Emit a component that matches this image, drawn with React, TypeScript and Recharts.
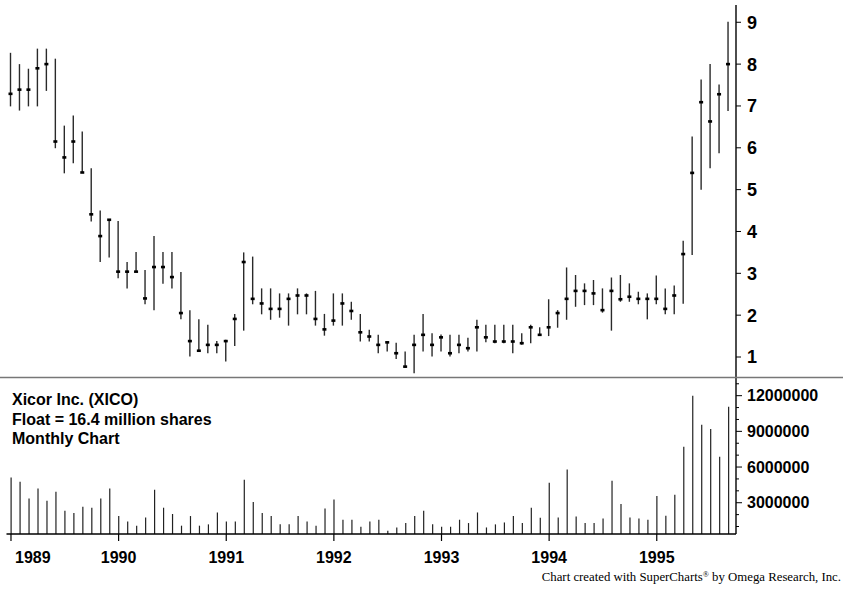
import React from 'react';
import { ComposedChart, BarChart, Bar, XAxis, YAxis } from 'recharts';

// ---- data ----
const yearLabels = ['1989', '1990', '1991', '1992', '1993', '1994', '1995'];
const monthLabels = ['01', '02', '03', '04', '05', '06', '07', '08', '09', '10', '11', '12'];
const monthCount = 81; // Jan 1989 .. Sep 1995

const highs = [
  8.27, 8.0, 7.89, 8.37, 8.37, 8.13, 6.53, 6.77, 6.39, 5.51, 4.5, 4.28,
  4.25, 3.27, 3.51, 3.08, 3.89, 3.51, 3.51, 3.03, 2.12, 1.9, 1.77, 1.38,
  1.41, 2.03, 3.5, 3.4, 2.64, 2.64, 2.52, 2.52, 2.64, 2.52, 2.58, 2.03,
  2.52, 2.52, 2.32, 2.03, 1.65, 1.53, 1.37, 1.34, 1.13, 1.53, 2.03, 1.57,
  1.54, 1.53, 1.53, 1.46, 1.89, 1.77, 1.77, 1.77, 1.77, 1.57, 1.77, 1.71,
  2.38, 2.12, 3.14, 2.96, 2.76, 2.84, 2.64, 2.9, 2.96, 2.76, 2.56, 2.52,
  2.95, 2.64, 2.71, 3.78, 6.27, 7.63, 8.0, 7.51, 9.01,
];
const lows = [
  6.99, 6.89, 6.99, 6.99, 7.36, 5.99, 5.39, 5.63, 5.41, 4.24, 3.27, 3.38,
  2.88, 2.64, 3.04, 2.26, 2.12, 2.75, 2.64, 1.9, 1.01, 1.13, 1.09, 1.09,
  0.89, 1.26, 1.63, 2.26, 2.02, 1.89, 1.94, 1.75, 2.02, 2.02, 1.75, 1.51,
  1.75, 1.75, 1.89, 1.37, 1.37, 1.09, 1.13, 0.95, 0.74, 0.61, 1.13, 1.01,
  1.13, 1.01, 1.09, 1.13, 1.13, 1.35, 1.33, 1.33, 1.09, 1.29, 1.33, 1.53,
  1.5, 1.7, 1.89, 2.2, 2.24, 2.24, 2.06, 1.63, 2.32, 2.32, 2.26, 1.9,
  2.26, 2.02, 2.02, 2.27, 3.44, 5.0, 5.51, 5.87, 6.88,
];
const closes = [
  7.29, 7.39, 7.39, 7.9, 8.0, 6.15, 5.77, 6.15, 5.41, 4.41, 3.89, 4.28,
  3.04, 3.04, 3.04, 2.4, 3.15, 3.15, 2.91, 2.05, 1.38, 1.15, 1.29, 1.29,
  1.38, 1.91, 3.27, 2.39, 2.28, 2.15, 2.15, 2.39, 2.47, 2.47, 1.91, 1.66,
  1.87, 2.28, 2.1, 1.59, 1.49, 1.29, 1.35, 1.09, 0.77, 1.29, 1.53, 1.29,
  1.47, 1.09, 1.29, 1.21, 1.71, 1.47, 1.37, 1.37, 1.37, 1.33, 1.71, 1.53,
  1.71, 2.05, 2.39, 2.58, 2.58, 2.52, 2.12, 2.58, 2.38, 2.44, 2.39, 2.39,
  2.39, 2.15, 2.47, 3.46, 5.4, 7.09, 6.63, 7.28, 8.0,
];
const volumes = [
  5130000, 4770000, 3360000, 4200000, 3170000, 3930000, 2330000, 2130000, 2660000, 2580000, 3360000, 4200000,
  1880000, 1430000, 1070000, 1760000, 4090000, 2580000, 2050000, 1070000, 1880000, 1070000, 1180000, 2180000,
  1430000, 1430000, 4930000, 3060000, 2130000, 1880000, 1180000, 1180000, 1880000, 1430000, 1070000, 2520000,
  3280000, 1570000, 1570000, 980000, 1430000, 1570000, 650000, 920000, 1290000, 1880000, 2330000, 1180000,
  980000, 980000, 1570000, 1290000, 2180000, 920000, 1180000, 1340000, 1880000, 1290000, 2580000, 1740000,
  4680000, 1760000, 5800000, 1850000, 1290000, 1290000, 1680000, 4850000, 2890000, 1760000, 1680000, 1570000,
  3560000, 1910000, 3670000, 7710000, 12000000, 9560000, 9200000, 6870000, 11070000,
];

const priceTicks = [1, 2, 3, 4, 5, 6, 7, 8, 9];
const volumeTicks = [
  1000000, 2000000, 3000000, 4000000, 5000000, 6000000, 7000000,
  8000000, 9000000, 10000000, 11000000, 12000000, 13000000,
];
const volumeLabelTicks = [3000000, 6000000, 9000000, 12000000];

const titleLines = ['Xicor Inc. (XICO)', 'Float = 16.4 million shares', 'Monthly Chart'];

// categories built from year / month labels
const categories: string[] = [];
for (const yr of yearLabels) {
  for (const mo of monthLabels) {
    if (categories.length < monthCount) categories.push(`${yr}-${mo}`);
  }
}

const data = categories.map((m, i) => ({
  m,
  range: [lows[i], highs[i]],
  high: highs[i],
  low: lows[i],
  close: closes[i],
  vol: volumes[i],
}));

// ---- styles ----
const SANS = "'Liberation Sans', Arial, Helvetica, sans-serif";
const SERIF = "'Liberation Serif', 'Times New Roman', serif";
const W = 843;
const PLOT_LEFT = 6.5;
const AXIS_W = 107;

const PriceBarShape = (props: any) => {
  const { x, y, width, height, payload } = props;
  if (x == null || y == null) return null;
  const cx = x + width / 2;
  const top = Math.min(y, y + height);
  const h = Math.abs(height);
  const { high, low, close } = payload;
  const cy = high === low ? top : top + ((high - close) / (high - low)) * h;
  return (
    <g>
      <line x1={cx} x2={cx} y1={top} y2={top + h} stroke="#2a2a2a" strokeWidth={1.4} />
      <rect x={cx - 2} y={cy - 1.3} width={4} height={2.6} fill="#000" />
    </g>
  );
};

const YearTick = (props: any) => {
  const { x, y, payload } = props;
  const label = String(payload.value).slice(0, 4);
  const first = payload.value === categories[0];
  return (
    <text
      x={first ? x + 4 : x}
      y={y + 20}
      textAnchor={first ? 'start' : 'middle'}
      fontFamily={SANS}
      fontWeight="bold"
      fontSize={16}
      fill="#000"
    >
      {label}
    </text>
  );
};

const VolumeTick = (props: any) => {
  const { x, y, payload } = props;
  const v = payload.value as number;
  const major = volumeLabelTicks.includes(v);
  const ax = x - 11;
  return (
    <g>
      <line x1={ax} x2={ax + (major ? 6 : 3)} y1={y} y2={y} stroke="#000" strokeWidth={1} />
      {major && (
        <text x={x} y={y} dy="0.36em" textAnchor="start" fontFamily={SANS} fontWeight="bold" fontSize={16} fill="#000">
          {String(v)}
        </text>
      )}
    </g>
  );
};

export default function App() {
  return (
    <div style={{ position: 'absolute', left: 0, top: 0, width: W, height: 589, background: '#fff' }}>
      <div style={{ position: 'absolute', left: 0, top: 0 }}>
        <ComposedChart
          width={W}
          height={377}
          data={data}
          margin={{ top: 5, right: 0, bottom: 0, left: PLOT_LEFT }}
        >
          <XAxis dataKey="m" hide padding={{ left: 0, right: 3 }} />
          <YAxis
            orientation="right"
            width={AXIS_W}
            domain={[0.522, 9.413]}
            allowDataOverflow
            ticks={priceTicks}
            interval={0}
            tickSize={5}
            tickMargin={6}
            axisLine={{ stroke: '#000', strokeWidth: 1.4 }}
            tickLine={{ stroke: '#000', strokeWidth: 1 }}
            tick={{ fill: '#000', fontSize: 18, fontWeight: 'bold', fontFamily: SANS }}
          />
          <Bar dataKey="range" barSize={4} shape={<PriceBarShape />} isAnimationActive={false} />
        </ComposedChart>
      </div>
      <div style={{ position: 'absolute', left: 0, top: 377 }}>
        <BarChart
          width={W}
          height={212}
          data={data}
          margin={{ top: 0, right: 0, bottom: 15, left: PLOT_LEFT }}
        >
          <XAxis
            dataKey="m"
            padding={{ left: 0, right: 3 }}
            interval={11}
            height={40}
            tickSize={7}
            axisLine={{ stroke: '#000', strokeWidth: 1.4 }}
            tickLine={{ stroke: '#000', strokeWidth: 1.2 }}
            tick={<YearTick />}
          />
          <YAxis
            orientation="right"
            width={AXIS_W}
            domain={[370000, 13570000]}
            allowDataOverflow
            ticks={volumeTicks}
            interval={0}
            tickSize={5}
            tickMargin={6}
            axisLine={{ stroke: '#000', strokeWidth: 1.4 }}
            tickLine={false}
            tick={<VolumeTick />}
          />
          <Bar dataKey="vol" barSize={1.2} fill="#222" isAnimationActive={false} />
        </BarChart>
      </div>
      <svg
        width={W}
        height={589}
        style={{ position: 'absolute', left: 0, top: 0, pointerEvents: 'none' }}
      >
        <line x1={0} x2={W} y1={377.5} y2={377.5} stroke="#777" strokeWidth={1.5} />
        {titleLines.map((t, i) => (
          <text
            key={t}
            x={12}
            y={405 + i * 19.5}
            fontFamily={SANS}
            fontWeight="bold"
            fontSize={16}
            fill="#000"
          >
            {t}
          </text>
        ))}
        <text x={841} y={581} textAnchor="end" fontFamily={SERIF} fontSize={12.8} fill="#000">
          Chart created with SuperCharts
          <tspan fontSize={8} dy={-4}>®</tspan>
          <tspan dy={4}> by Omega Research, Inc.</tspan>
        </text>
      </svg>
    </div>
  );
}
